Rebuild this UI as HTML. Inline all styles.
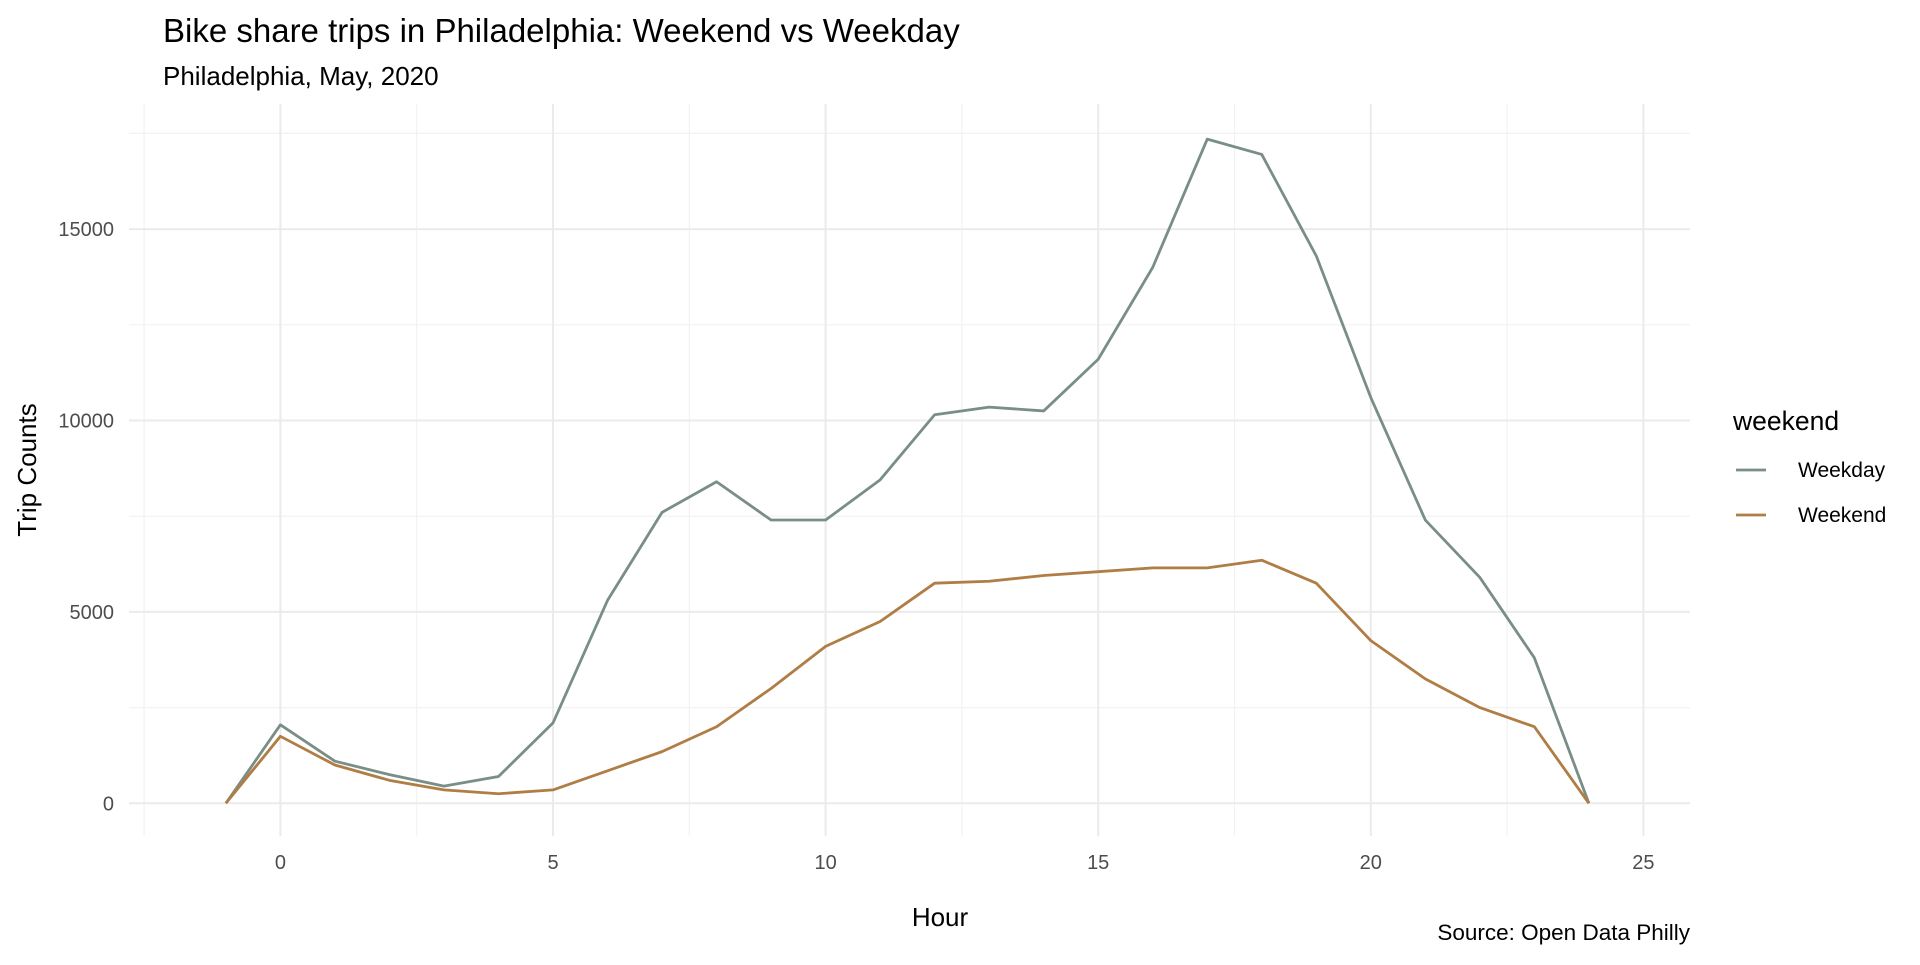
<!DOCTYPE html>
<html><head><meta charset="utf-8"><style>
body{margin:0;background:#fff;font-family:"Liberation Sans",Arial,sans-serif}
svg text{font-family:"Liberation Sans",Arial,sans-serif}
</style></head><body>
<svg id="chart" width="1920" height="960" xmlns="http://www.w3.org/2000/svg">
<rect width="1920" height="960" fill="#fff"/>
<text x="163" y="42" font-size="33" fill="#000">Bike share trips in Philadelphia: Weekend vs Weekday</text>
<text x="163" y="85" font-size="26" fill="#000">Philadelphia, May, 2020</text>
<g id="grid"></g><g id="ticks"></g><g id="lines"></g>
<text x="940" y="926" font-size="26" text-anchor="middle" fill="#000">Hour</text>
<text transform="translate(36,470) rotate(-90)" font-size="26" text-anchor="middle" fill="#000">Trip Counts</text>
<text x="1690" y="940" font-size="22.5" text-anchor="end" fill="#000">Source: Open Data Philly</text>
<g>
<text x="1733" y="430" font-size="26.5" fill="#000">weekend</text>
<g><line x1="1736" x2="1766" y1="470" y2="470" stroke="#798e86" stroke-width="2.8"/><text x="1798" y="477" font-size="21" fill="#000">Weekday</text></g>
<g><line x1="1736" x2="1766" y1="515" y2="515" stroke="#b07d45" stroke-width="2.8"/><text x="1798" y="522" font-size="21" fill="#000">Weekend</text></g>
</g>
</svg>
<script>
const hours=[-1,0,1,2,3,4,5,6,7,8,9,10,11,12,13,14,15,16,17,18,19,20,21,22,23,24];
const weekday=[0,2050,1100,750,450,700,2100,5300,7600,8400,7400,7400,8450,10150,10350,10250,11600,14000,17350,16950,14300,10600,7400,5900,3800,0];
const weekend=[0,1750,1000,600,350,250,350,850,1350,2000,3000,4100,4750,5750,5800,5950,6050,6150,6150,6350,5750,4250,3250,2500,2000,0];
const xTicks=[0,5,10,15,20,25];
const yTicks=[0,5000,10000,15000];
const NS="http://www.w3.org/2000/svg";
const px0=129,px1=1690,py0=104,py1=836;
const x=v=>280.4+v*54.52;
const y=v=>803.3-v*(191.4/5000);
function mk(t,a,p){const e=document.createElementNS(NS,t);for(const k in a)e.setAttribute(k,a[k]);p.appendChild(e);return e;}
const grid=document.getElementById('grid'),ticks=document.getElementById('ticks'),lines=document.getElementById('lines');
for(let v=-2.5;v<=25;v+=5){const l=mk('line',{x1:x(v),x2:x(v),y1:py0,y2:py1,stroke:'#f2f2f2','stroke-width':1.2},grid);
}
for(let v=2500;v<=17500;v+=5000){const l=mk('line',{x1:px0,x2:px1,y1:y(v),y2:y(v),stroke:'#f2f2f2','stroke-width':1.2},grid);
}
xTicks.forEach(v=>{const l=mk('line',{x1:x(v),x2:x(v),y1:py0,y2:py1,stroke:'#ebebeb','stroke-width':2},grid);

const t=mk('text',{x:x(v),y:869,'font-size':20,'text-anchor':'middle',fill:'#4d4d4d'},ticks);t.textContent=v;
});
yTicks.forEach(v=>{const l=mk('line',{x1:px0,x2:px1,y1:y(v),y2:y(v),stroke:'#ebebeb','stroke-width':2},grid);

const t=mk('text',{x:114,y:y(v)+7,'font-size':20,'text-anchor':'end',fill:'#4d4d4d'},ticks);t.textContent=v;
});
function series(vals,col,name){const p=mk('polyline',{points:hours.map((h,i)=>x(h)+','+y(vals[i])).join(' '),fill:'none',stroke:col,'stroke-width':2.8,'stroke-linejoin':'round'},lines);
}
series(weekday,'#798e86','weekday-line');
series(weekend,'#b07d45','weekend-line');
</script>
</body></html>
